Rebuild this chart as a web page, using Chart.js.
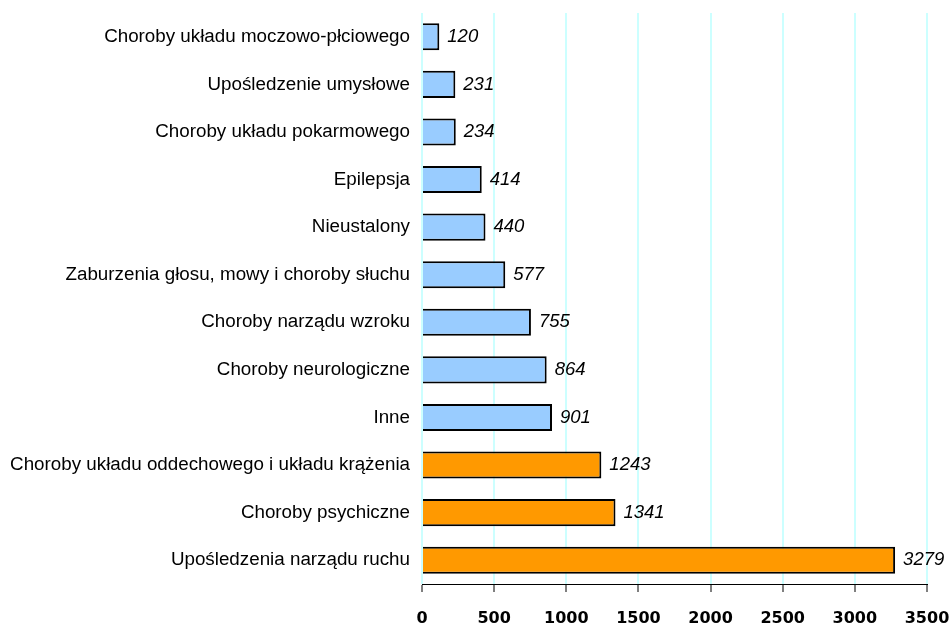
<!DOCTYPE html>
<html lang="pl">
<head>
<meta charset="UTF-8">
<title>Choroby</title>
<style>
  body { margin: 0; background: #ffffff; }
  #wrap { width: 950px; height: 628px; }
</style>
</head>
<body>
<div id="wrap"><canvas id="chart" width="950" height="628"></canvas></div>
<script src="https://cdn.jsdelivr.net/npm/chart.js"></script>
<script>
// data (top to bottom)
const categories = [
  'Choroby układu moczowo-płciowego',
  'Upośledzenie umysłowe',
  'Choroby układu pokarmowego',
  'Epilepsja',
  'Nieustalony',
  'Zaburzenia głosu, mowy i choroby słuchu',
  'Choroby narządu wzroku',
  'Choroby neurologiczne',
  'Inne',
  'Choroby układu oddechowego i układu krążenia',
  'Choroby psychiczne',
  'Upośledzenia narządu ruchu'
];
const values = [120, 231, 234, 414, 440, 577, 755, 864, 901, 1243, 1341, 3279];
const highlighted = [false, false, false, false, false, false, false, false, false, true, true, true];
const xTicks = [0, 500, 1000, 1500, 2000, 2500, 3000, 3500];

// draws the italic numbers to the right of each bar
const valueLabels = {
  id: 'valueLabels',
  afterDatasetsDraw(chart) {
    const ctx = chart.ctx;
    const meta = chart.getDatasetMeta(0);
    ctx.save();
    ctx.font = 'italic 18.5px "Liberation Sans", Arial, sans-serif';
    ctx.fillStyle = '#000';
    ctx.textBaseline = 'middle';
    ctx.textAlign = 'left';
    meta.data.forEach((bar, i) => {
      ctx.fillText(String(values[i]), bar.x + 8, bar.y);
    });
    ctx.restore();
  }
};

new Chart(document.getElementById('chart'), {
  type: 'bar',
  data: {
    labels: categories,
    datasets: [{
      data: values,
      backgroundColor: highlighted.map(h => h ? '#ff9900' : '#99ccff'),
      borderColor: '#000000',
      borderWidth: 2,
      categoryPercentage: 1,
      barPercentage: 0.57
    }]
  },
  options: {
    indexAxis: 'y',
    responsive: false,
    animation: false,
    layout: { padding: { top: 13, right: 23, left: 0, bottom: 0 } },
    plugins: { legend: { display: false }, tooltip: { enabled: false } },
    scales: {
      x: {
        min: 0,
        max: 3500,
        afterBuildTicks: axis => { axis.ticks = xTicks.map(v => ({ value: v })); },
        afterFit: axis => {
          axis.height = 44;
          axis.paddingLeft = 0;
          axis.paddingRight = 0;
        },
        grid: { color: '#ccffff', lineWidth: 2, tickColor: '#000', tickWidth: 1, tickLength: 8 },
        border: { display: true, color: '#000', width: 1 },
        ticks: {
          color: '#000',
          padding: 17,
          callback: v => String(v),
          font: { family: '"DejaVu Sans", Verdana, sans-serif', size: 16, weight: 'bold' }
        }
      },
      y: {
        afterFit: axis => {
          axis.width = 422;
          axis.paddingTop = 0;
          axis.paddingBottom = 0;
        },
        grid: { display: false, drawTicks: false },
        border: { display: false },
        ticks: {
          color: '#000',
          padding: 12,
          font: { family: '"Liberation Sans", Arial, sans-serif', size: 18.8 }
        }
      }
    }
  },
  plugins: [valueLabels]
});
</script>
</body>
</html>
